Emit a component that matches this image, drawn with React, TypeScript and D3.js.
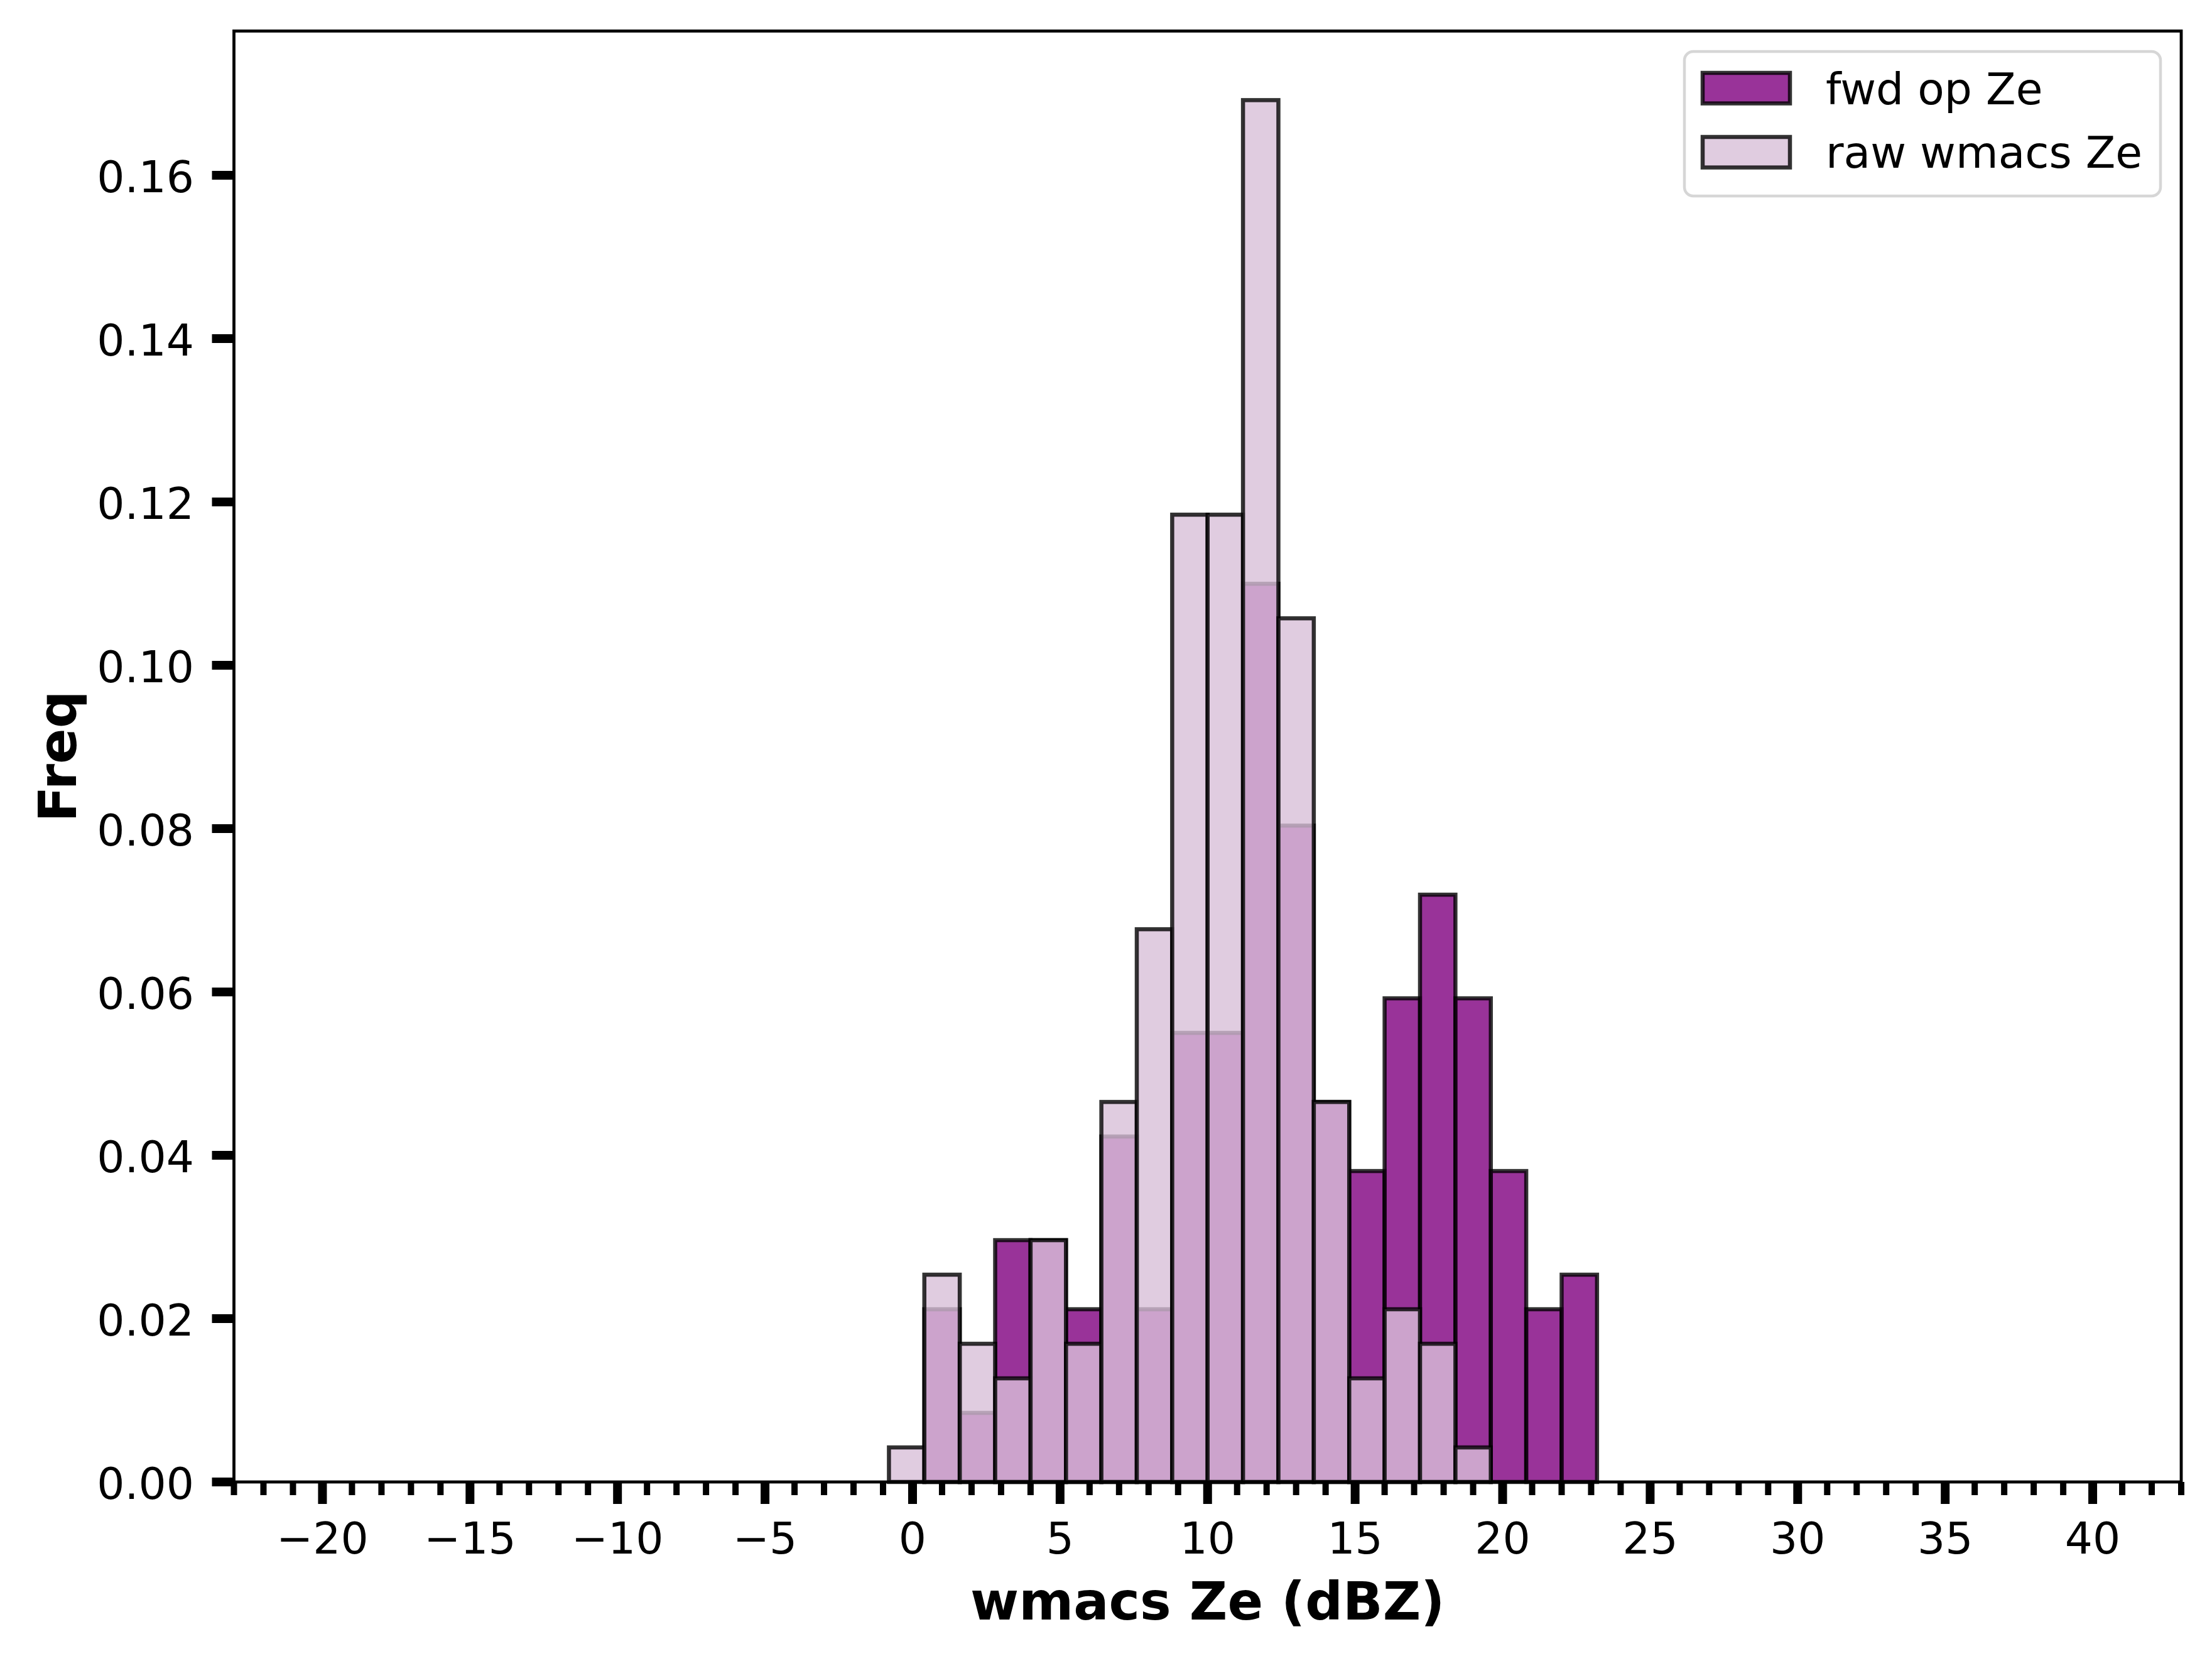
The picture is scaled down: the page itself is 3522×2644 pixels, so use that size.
import React from 'react';
import * as d3 from 'd3';

// histogram bins (dBZ), shared by both series
const binEdges = [-0.8, 0.4, 1.6, 2.8, 4.0, 5.2, 6.4, 7.6, 8.8, 10.0, 11.2, 12.4, 13.6, 14.8, 16.0, 17.2, 18.4, 19.6, 20.8, 22.0, 23.2];
// counts per bin (density = count / (n * binwidth))
const fwdCounts = [0, 5, 2, 7, 7, 5, 10, 5, 13, 13, 26, 19, 11, 9, 14, 17, 14, 9, 5, 6];
const rawCounts = [1, 6, 4, 3, 7, 4, 11, 16, 28, 28, 40, 25, 11, 3, 5, 4, 1, 0, 0, 0];
const sampleSize = 197;

const xMajorTicks = [-20, -15, -10, -5, 0, 5, 10, 15, 20, 25, 30, 35, 40];
const yTicks = [0, 0.02, 0.04, 0.06, 0.08, 0.1, 0.12, 0.14, 0.16];
const seriesNames = ['fwd op Ze', 'raw wmacs Ze'];

const W = 3522;
const H = 2644;
const FONT = '"DejaVu Sans", sans-serif';

const App: React.FC = () => {
  const left = 372.5, right = 3473, top = 49.4, bottom = 2359;

  const toDensity = (counts: number[]) =>
    counts.map((c, i) => ({
      x0: binEdges[i],
      x1: binEdges[i + 1],
      v: c / (sampleSize * (binEdges[i + 1] - binEdges[i])),
    }));
  const fwd = toDensity(fwdCounts);
  const raw = toDensity(rawCounts);
  const maxV = d3.max([...fwd, ...raw], d => d.v) as number;

  const x = d3.scaleLinear().domain([-23, 43]).range([left, right]);
  const y = d3.scaleLinear().domain([0, maxV * 1.05]).range([bottom, top]);

  const minorTicks = d3.range(-23, 44).filter(t => t % 5 !== 0);
  const fmtY = d3.format('.2f');
  const fmtX = (t: number) => (t < 0 ? '\u2212' + Math.abs(t) : String(t));

  const series = [
    { data: fwd, fill: 'purple', name: seriesNames[0] },
    { data: raw, fill: 'thistle', name: seriesNames[1] },
  ];

  const tickFont = 69.5;
  const edgeW = 6.5;

  return (
    <svg width={W} height={H} style={{ position: 'absolute', left: 0, top: 0, display: 'block', background: '#fff' }}>
      <rect x={0} y={0} width={W} height={H} fill="#fff" />
      {series.map(s => (
        <g key={s.name}>
          {s.data.filter(d => d.v > 0).map((d, i) => (
            <rect
              key={i}
              x={x(d.x0)}
              y={y(d.v)}
              width={x(d.x1) - x(d.x0)}
              height={y(0) - y(d.v)}
              fill={s.fill}
              fillOpacity={0.8}
              stroke="black"
              strokeOpacity={0.8}
              strokeWidth={edgeW}
            />
          ))}
        </g>
      ))}

      {/* spines */}
      <rect x={left} y={top} width={right - left} height={bottom - top} fill="none" stroke="black" strokeWidth={4.8} />

      {/* x ticks */}
      {minorTicks.map(t => (
        <line key={'m' + t} x1={x(t)} x2={x(t)} y1={bottom} y2={bottom + 21} stroke="black" strokeWidth={10} />
      ))}
      {xMajorTicks.map(t => (
        <g key={'x' + t}>
          <line x1={x(t)} x2={x(t)} y1={bottom} y2={bottom + 35} stroke="black" strokeWidth={14} />
          <text x={x(t)} y={2473} textAnchor="middle" fontFamily={FONT} fontSize={tickFont}>{fmtX(t)}</text>
        </g>
      ))}

      {/* y ticks */}
      {yTicks.map(t => (
        <g key={'y' + t}>
          <line x1={left - 35} x2={left} y1={y(t)} y2={y(t)} stroke="black" strokeWidth={14} />
          <text x={309} y={y(t) + 27} textAnchor="end" fontFamily={FONT} fontSize={tickFont}>{fmtY(t)}</text>
        </g>
      ))}

      {/* axis labels */}
      <text x={(left + right) / 2} y={2578} textAnchor="middle" fontFamily={FONT} fontWeight="bold" fontSize={83.5}>wmacs Ze (dBZ)</text>
      <text transform={`translate(120.7,${(top + bottom) / 2}) rotate(-90)`} textAnchor="middle" fontFamily={FONT} fontWeight="bold" fontSize={83.5}>Freq</text>

      {/* legend */}
      <g>
        <rect x={2682} y={82} width={758} height={230} rx={14} ry={14} fill="white" fillOpacity={0.8} stroke="#cccccc" strokeOpacity={0.8} strokeWidth={4.5} />
        {series.map((s, i) => (
          <g key={'lg' + i}>
            <rect x={2711} y={116 + i * 102} width={139} height={48.6} fill={s.fill} fillOpacity={0.8} stroke="black" strokeOpacity={0.8} strokeWidth={edgeW} />
            <text x={2907} y={166 + i * 101} fontFamily={FONT} fontSize={tickFont}>{s.name}</text>
          </g>
        ))}
      </g>
    </svg>
  );
};

export default App;
